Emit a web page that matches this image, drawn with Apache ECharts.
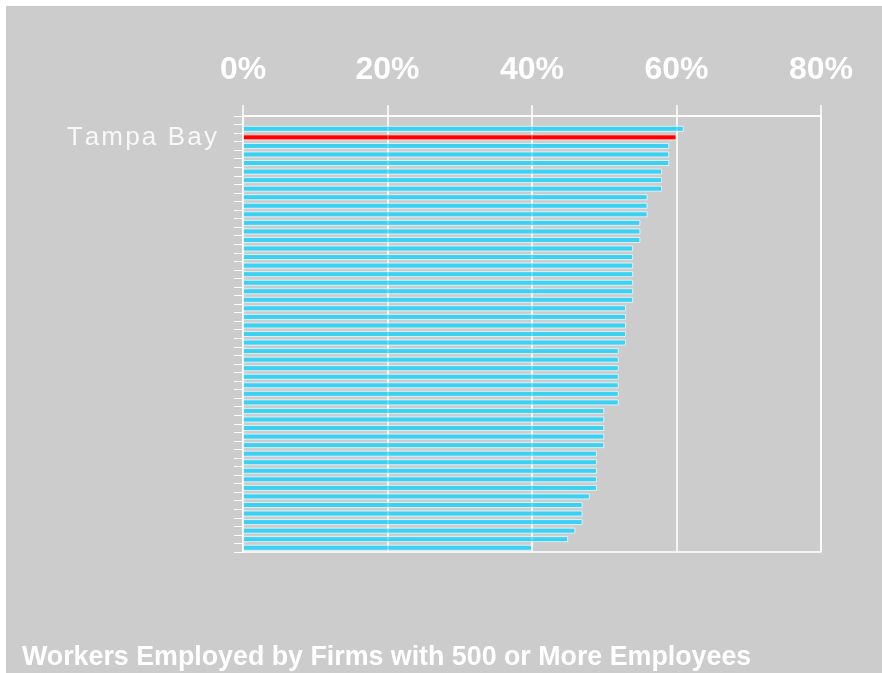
<!DOCTYPE html>
<html>
<head>
<meta charset="utf-8">
<title>Workers Employed by Firms with 500 or More Employees</title>
<script src="https://cdn.jsdelivr.net/npm/echarts@6/dist/echarts.min.js"></script>
<style>
  html, body { margin: 0; padding: 0; background: #ffffff; }
  #chart { position: absolute; left: 6px; top: 6px; width: 876px; height: 667px; }
</style>
</head>
<body>
<div id="chart"></div>
<script>
// Share of workers employed by firms with 500+ employees, ranked by metro (percent).
// The first row is left empty on purpose; the highlighted metro is Tampa Bay.
const highlightMetro = 'Tampa Bay';
const shareValues = [
  61, 60, 59, 59, 59, 58, 58, 58, 56, 56,
  56, 55, 55, 55, 54, 54, 54, 54, 54, 54,
  54, 53, 53, 53, 53, 53, 52, 52, 52, 52,
  52, 52, 52, 50, 50, 50, 50, 50, 49, 49,
  49, 49, 49, 48, 47, 47, 47, 46, 45, 40
];
// Metro names for each ranked row (only the highlighted one is labelled).
const metroNames = [''].concat(shareValues.map((v, i) => (i === 1 ? highlightMetro : 'Metro #' + (i + 1))));
const seriesData = [null].concat(shareValues);
const xTicks = [0, 20, 40, 60, 80];

const FONT = "'Liberation Sans', Arial, Helvetica, sans-serif";
const barCyan = '#3cd0f2';
const barRed = '#ff0000';

const chart = echarts.init(document.getElementById('chart'), null, { renderer: 'canvas' });

chart.setOption({
  backgroundColor: '#cccccc',
  animation: false,
  title: {
    text: 'Workers Employed by Firms with 500 or More Employees',
    left: 16,
    top: 638,
    padding: 0,
    textStyle: { color: '#ffffff', fontFamily: FONT, fontWeight: 'bold', fontSize: 26.8 }
  },
  grid: {
    left: 237, right: 61, top: 110, bottom: 121,
    show: true, borderColor: '#ffffff', borderWidth: 1.5, backgroundColor: 'transparent'
  },
  xAxis: {
    type: 'value',
    position: 'top',
    min: xTicks[0],
    max: xTicks[xTicks.length - 1],
    interval: 20,
    axisLine: { show: true, lineStyle: { color: '#ffffff', width: 1.5 } },
    axisTick: { show: true, length: 11, lineStyle: { color: '#ffffff', width: 1.5 } },
    splitLine: { show: true, lineStyle: { color: '#ffffff', width: 1.5 } },
    axisLabel: {
      margin: 30,
      color: '#ffffff',
      fontFamily: FONT,
      fontWeight: 'bold',
      fontSize: 32,
      formatter: v => v + '%'
    }
  },
  yAxis: {
    type: 'category',
    inverse: true,
    data: metroNames,
    axisLine: { show: true, lineStyle: { color: '#ffffff', width: 1.5 } },
    axisTick: { show: true, length: 9, interval: 0, lineStyle: { color: '#ffffff', width: 1 } },
    splitLine: { show: false },
    axisLabel: {
      interval: 0,
      margin: 26,
      color: '#f8f8f8',
      fontFamily: FONT,
      fontSize: 26,
      formatter: name => (name === highlightMetro ? name.split('').join('\u200A') : '')
    }
  },
  series: [{
    type: 'bar',
    data: seriesData.map((v, i) => ({
      value: v,
      itemStyle: { color: metroNames[i] === highlightMetro ? barRed : barCyan }
    })),
    barWidth: 6,
    itemStyle: { borderColor: 'rgba(255,255,255,0.7)', borderWidth: 1 },
    markLine: {
      silent: true,
      symbol: 'none',
      label: { show: false },
      lineStyle: { color: 'rgba(255,255,255,0.3)', width: 1.5, type: 'solid' },
      data: xTicks.slice(1, -1).map(x => ({ xAxis: x }))
    }
  }]
});
</script>
</body>
</html>
